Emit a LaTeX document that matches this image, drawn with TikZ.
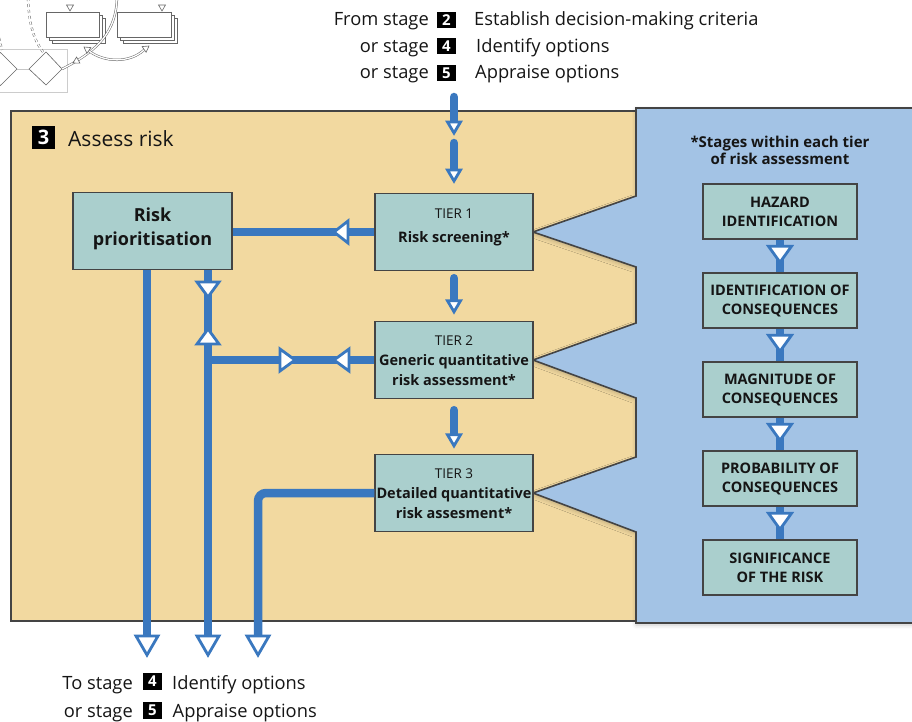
\documentclass[tikz,border=0pt]{standalone}
\usepackage{fontspec}
\setmainfont{Open Sans}
\usetikzlibrary{calc,shadows.blur}
\definecolor{beige}{HTML}{F2D9A0}
\definecolor{panelblue}{HTML}{A3C3E5}
\definecolor{boxteal}{HTML}{AACFCD}
\definecolor{flowblue}{HTML}{3A78BF}
\definecolor{edge}{HTML}{444444}
\definecolor{ink}{HTML}{151515}
\definecolor{thumb}{HTML}{666666}
\tikzset{
  box/.style={draw=edge, line width=1.4pt, fill=boxteal, inner sep=0pt, minimum width=158pt, minimum height=77pt, text=ink},
  stagebox/.style={box, minimum width=154pt, minimum height=55pt, align=center, font=\fontsize{14.5}{19}\selectfont\bfseries},
  flow/.style={draw=flowblue, line width=8.5pt},
  tristyle/.style={draw=flowblue, fill=white, line width=2.8pt, line join=miter},
  pics/tri/.style 2 args={code={\path[tristyle] (0pt,0pt) -- (-#2,#1/2) -- (-#2,-#1/2) -- cycle;}},
  thtri/.style={draw=thumb, fill=white, line width=0.6pt},
  pics/ttri/.style={code={\path[thtri] (0pt,0pt) -- (-6pt,3.5pt) -- (-6pt,-3.5pt) -- cycle;}},
  thline/.style={draw=thumb, line width=0.5pt, double=white, double distance=1.3pt},
  numbox/.style={fill=black, text=white, inner sep=0pt, minimum width=19pt, minimum height=16pt, font=\fontsize{15}{15}\selectfont\bfseries},
  lbl/.style={text=ink, inner sep=0pt, font=\fontsize{18.3}{21}\selectfont},
  tiertop/.style={text=ink, inner sep=0pt, anchor=base, font=\fontsize{13.5}{16}\selectfont},
  tierbold/.style={text=ink, inner sep=0pt, anchor=base, font=\fontsize{14.5}{17}\selectfont\bfseries},
}
\begin{document}
\begin{tikzpicture}[x=1pt,y=-1pt]
\useasboundingbox (0,0) rectangle (912,722);

% ---------- thumbnail (top left) ----------
\draw[gray!40, line width=1pt] (-5,50) rectangle (67,93);
\draw[thumb, line width=0.6pt] (17,69) -- (0.5,52.5) -- (-16,69) -- (0.5,85.5) -- cycle;
\draw[gray!45, line width=0.8pt] (17,69) -- (29,69);
\draw[thumb, line width=0.6pt] (29,69) -- (46,52) -- (62,69) -- (46,85) -- cycle;
\draw[thline, dashed] (28,-2) .. controls (29,25) and (34,40) .. (43,52);
\draw[thline, dashed] (-1,38) -- (2,50);
\foreach \d in {6.6,3.3,0}{
  \filldraw[fill=white, draw=thumb, line width=0.6pt] (46+\d,12+\d) rectangle (99+\d,37+\d);
  \filldraw[fill=white, draw=thumb, line width=0.6pt] (117+\d,12+\d) rectangle (171+\d,37+\d);
}
\draw[thline] (70,-2) -- (70,4);
\pic[rotate=-90] at (70,11) {ttri};
\draw[thline] (162,-2) -- (162,4);
\pic[rotate=-90] at (162,11) {ttri};
\draw[thline] (117,-2) .. controls (116,30) and (100,50) .. (62,69);
\pic[rotate=209] at (73,63) {ttri};
\draw[thline] (89,51) .. controls (105,63) and (130,63) .. (144,50);
\pic[rotate=145] at (84,47) {ttri};
\pic[rotate=35] at (149,46) {ttri};

% ---------- main containers ----------
\path[fill=beige, draw=edge, line width=1.6pt] (11,111) rectangle (641,621);
\path[fill=panelblue, draw=edge, line width=1.6pt,
  blur shadow={shadow xshift=0pt, shadow yshift=-2pt, shadow blur radius=4pt, shadow opacity=22}]
  (636,108) -- (925,108) -- (925,623) -- (636,623) -- (636,532) -- (533,493) -- (636,457)
  -- (636,398) -- (533,360) -- (636,323) -- (636,267) -- (533,232) -- (636,196) -- cycle;

% ---------- boxes ----------
\node[box, minimum width=159pt] (RP) at (152.5,231) {};
\node[box] (T1) at (454,232) {};
\node[box] (T2) at (454,360) {};
\node[box] (T3) at (454,493) {};

\node[stagebox] (H) at (780,211.5) {HAZARD\\IDENTIFICATION};
\node[stagebox] (I) at (780,300.5) {IDENTIFICATION OF\\CONSEQUENCES};
\node[stagebox] (M) at (780,389.5) {MAGNITUDE OF\\CONSEQUENCES};
\node[stagebox] (P) at (780,478.5) {PROBABILITY OF\\CONSEQUENCES};
\node[stagebox] (S) at (780,567.5) {SIGNIFICANCE\\OF THE RISK};

% ---------- coordinates ----------
\coordinate (in1s) at (454,97);
\coordinate (in1e) at (454,133);
\coordinate (in2s) at (454,143);
\coordinate (in2e) at (454,181);
\coordinate (b1) at (147,655);
\coordinate (b2) at (208,655);
\coordinate (b3) at (258,655);

% ---------- flows ----------
\draw[flow, line cap=round, shorten >=8pt] (in1s) -- (in1e);
\pic[rotate=-90] at (in1e) {tri={13pt}{11pt}};
\draw[flow, line cap=round, shorten >=8pt] (in2s) -- (in2e);
\pic[rotate=-90] at (in2e) {tri={13pt}{11pt}};

\draw[flow, line cap=round, shorten <=7pt, shorten >=17pt] (T1.south) -- (T2.north);
\pic[rotate=-90] at ([yshift=9pt]T2.north) {tri={13pt}{11pt}};
\draw[flow, line cap=round, shorten <=11pt, shorten >=16pt] (T2.south) -- (T3.north);
\pic[rotate=-90] at ([yshift=8pt]T3.north) {tri={13pt}{11pt}};

\draw[flow] (T1.west) -- (T1.west -| RP.east);
\pic[rotate=180] at (334,232) {tri={22pt}{14pt}};

\draw[flow, shorten >=14pt] (RP.south -| b1) -- (b1);
\draw[flow, shorten >=14pt] (RP.south -| b2) -- (b2);
\draw[flow] (T2.west) -- (T2.west -| b2);
\draw[flow, rounded corners=8pt, shorten >=14pt] (T3.west) -- (T3.west -| b3) -- (b3);
\pic[rotate=-90] at (b1) {tri={22pt}{19pt}};
\pic[rotate=-90] at (b2) {tri={22pt}{19pt}};
\pic[rotate=-90] at (b3) {tri={22pt}{19pt}};
\pic[rotate=-90] at (208,297) {tri={22pt}{15pt}};
\pic[rotate=90] at (208,329) {tri={22pt}{15pt}};
\pic at (295,360) {tri={22pt}{15pt}};
\pic[rotate=180] at (334,360) {tri={22pt}{15pt}};

\foreach \a/\b in {H/I, I/M, M/P, P/S}{
  \draw[flow] (\a.south) -- (\b.north);
  \pic[rotate=-90] at ([yshift=10pt]\b.north) {tri={23pt}{16pt}};
}
% redraw box borders over line ends
\foreach \n in {H,I,M,P,S}{\draw[edge, line width=1.4pt] (\n.south west) rectangle (\n.north east);}

% ---------- texts ----------
\node[text=ink, align=center, inner sep=0pt, font=\fontsize{18}{24}\selectfont\bfseries] (RPt) at (152.5,229) {Risk\\prioritisation};

\node[tiertop] (t1a) at (454,218) {TIER 1};
\node[tierbold] (t1b) at (454,242) {Risk screening*};
\node[tiertop] (t2a) at (454,345) {TIER 2};
\node[tierbold] (t2b) at (454,365.5) {Generic quantitative};
\node[tierbold] (t2c) at (454,385.5) {risk assessment*};
\node[tiertop] (t3a) at (454,478) {TIER 3};
\node[tierbold] (t3b) at (454,498.5) {Detailed quantitative};
\node[tierbold] (t3c) at (454,518.5) {risk assesment*};

\node[text=ink, inner sep=0pt, anchor=base, font=\fontsize{15}{17}\selectfont\bfseries] (hd1) at (780,148) {*Stages within each tier};
\node[text=ink, inner sep=0pt, anchor=base, font=\fontsize{15}{17}\selectfont\bfseries] (hd2) at (780,165) {of risk assessment};

\node[numbox, minimum width=23pt, minimum height=23pt, font=\fontsize{20}{20}\selectfont\bfseries] (n3) at (43.5,137.5) {3};
\node[lbl, anchor=base west, font=\fontsize{21}{24}\selectfont] (ttl) at (68,147) {Assess risk};

\node[lbl, anchor=base east] (fa) at (429,26) {From stage};
\node[numbox] (n2) at (446.5,20) {2};
\node[lbl, anchor=base west] (fb) at (474,26) {Establish decision-making criteria};
\node[lbl, anchor=base east] (ga) at (429,52.5) {or stage};
\node[numbox] (n4a) at (446.5,46.5) {4};
\node[lbl, anchor=base west] (gb) at (476,52.5) {Identify options};
\node[lbl, anchor=base east] (ha) at (429,79) {or stage};
\node[numbox] (n5a) at (446.5,73) {5};
\node[lbl, anchor=base west] (hb) at (475,79) {Appraise options};

\node[lbl, anchor=base east] (ta) at (133,689) {To stage};
\node[numbox, minimum height=17pt] (n4b) at (152.5,681.5) {4};
\node[lbl, anchor=base west] (tb) at (172,689) {Identify options};
\node[lbl, anchor=base east] (ua) at (133,717) {or stage};
\node[numbox, minimum height=17pt] (n5b) at (152.5,710.5) {5};
\node[lbl, anchor=base west] (ub) at (172.5,717) {Appraise options};
\end{tikzpicture}
\end{document}
